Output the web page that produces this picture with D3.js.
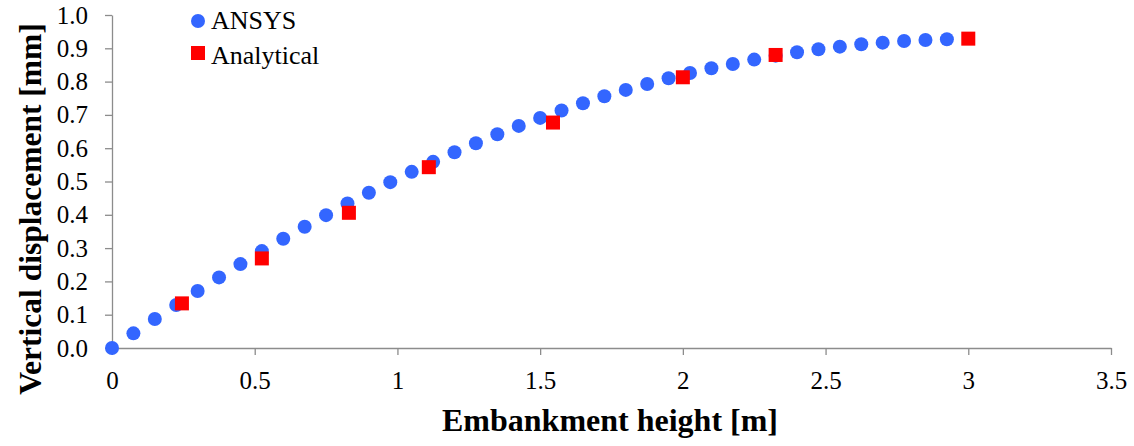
<!DOCTYPE html>
<html>
<head>
<meta charset="utf-8">
<script src="https://cdn.jsdelivr.net/npm/d3@7"></script>
<style>
  body { margin: 0; background: #fff; }
  svg { display: block; }
  .axis path, .axis line { stroke: #8c8c8c; stroke-width: 1.3; }
</style>
</head>
<body>
<div id="chart"></div>
<script>
// ANSYS results
var ansysX = [0, 0.075, 0.15, 0.225, 0.3, 0.375, 0.45, 0.525, 0.6, 0.675,
              0.75, 0.825, 0.9, 0.975, 1.05, 1.125, 1.2, 1.275, 1.35, 1.425,
              1.5, 1.575, 1.65, 1.725, 1.8, 1.875, 1.95, 2.025, 2.1, 2.175,
              2.25, 2.325, 2.4, 2.475, 2.55, 2.625, 2.7, 2.775, 2.85, 2.925];
var ansysY = [0.000, 0.044, 0.087, 0.129, 0.171, 0.212, 0.252, 0.291, 0.328, 0.364,
              0.399, 0.434, 0.466, 0.498, 0.529, 0.559, 0.588, 0.615, 0.642, 0.667,
              0.691, 0.713, 0.735, 0.756, 0.775, 0.793, 0.810, 0.826, 0.840, 0.853,
              0.866, 0.878, 0.888, 0.897, 0.905, 0.912, 0.917, 0.922, 0.925, 0.927];

// analytical solution
var analyticalX = [0.245, 0.525, 0.83, 1.11, 1.545, 2.0, 2.325, 3.0];
var analyticalY = [0.134, 0.269, 0.406, 0.543, 0.677, 0.813, 0.880, 0.929];

var xTicks = [0, 0.5, 1, 1.5, 2, 2.5, 3, 3.5];
var yTicks = [0, 0.1, 0.2, 0.3, 0.4, 0.5, 0.6, 0.7, 0.8, 0.9, 1.0];

var seriesNames = ['ANSYS', 'Analytical'];
var xTitle = 'Embankment height [m]';
var yTitle = 'Vertical displacement [mm]';

var serif = "'Liberation Serif', 'Times New Roman', serif";

var W = 1134, H = 446;
var margin = { top: 15, left: 112, bottom: 98, right: 23 };
var width = W - margin.left - margin.right,
    height = H - margin.top - margin.bottom;

var svg = d3.select('#chart').append('svg')
    .attr('width', W)
    .attr('height', H)
    .style('font-family', serif);

var g = svg.append('g')
    .attr('transform', 'translate(' + margin.left + ',' + margin.top + ')');

var x = d3.scaleLinear().domain([0, 3.5]).range([0, width]);
var y = d3.scaleLinear().domain([0, 1]).range([height, 0]);

var ansys = ansysX.map((d, i) => ({ x: d, y: ansysY[i] }));
var analytical = analyticalX.map((d, i) => ({ x: d, y: analyticalY[i] }));

// axes
var xAxis = d3.axisBottom(x)
    .tickValues(xTicks)
    .tickSizeInner(7)
    .tickSizeOuter(0)
    .tickPadding(16)
    .tickFormat(d3.format('~g'));

var yAxis = d3.axisLeft(y)
    .tickValues(yTicks)
    .tickSizeInner(7)
    .tickSizeOuter(0)
    .tickPadding(17)
    .tickFormat(d3.format('.1f'));

g.append('g')
    .attr('class', 'axis')
    .attr('transform', 'translate(0,' + height + ')')
    .call(xAxis);

g.append('g')
    .attr('class', 'axis')
    .call(yAxis);

g.selectAll('.axis text')
    .style('font-family', serif)
    .style('font-size', '25px')
    .style('fill', '#000');

// points
g.selectAll('.ansys')
    .data(ansys)
    .enter()
    .append('circle')
    .attr('class', 'ansys')
    .attr('cx', d => x(d.x))
    .attr('cy', d => y(d.y))
    .attr('r', 7)
    .attr('fill', '#3366ff');

var sq = 14;
g.selectAll('.analytical')
    .data(analytical)
    .enter()
    .append('rect')
    .attr('class', 'analytical')
    .attr('x', d => x(d.x) - sq / 2)
    .attr('y', d => y(d.y) - sq / 2)
    .attr('width', sq)
    .attr('height', sq)
    .attr('fill', '#ff0000');

// legend
var legend = svg.append('g').attr('transform', 'translate(198,0)');
legend.append('circle')
    .attr('cx', 0).attr('cy', 21).attr('r', 7)
    .attr('fill', '#3366ff');
legend.append('rect')
    .attr('x', -7).attr('y', 46).attr('width', 14).attr('height', 14)
    .attr('fill', '#ff0000');
legend.selectAll('.legtext')
    .data(seriesNames)
    .enter()
    .append('text')
    .attr('class', 'legtext')
    .attr('x', 13)
    .attr('y', (d, i) => 29 + i * 35)
    .style('font-size', '26px')
    .style('fill', '#000')
    .text(d => d);

// axis titles
svg.append('text')
    .attr('text-anchor', 'middle')
    .attr('x', 610)
    .attr('y', 431)
    .style('font-weight', 'bold')
    .style('font-size', '32px')
    .text(xTitle);

svg.append('text')
    .attr('text-anchor', 'middle')
    .attr('transform', 'translate(41,' + 209 + ') rotate(-90)')
    .style('font-weight', 'bold')
    .style('font-size', '31.5px')
    .text(yTitle);
</script>
</body>
</html>
